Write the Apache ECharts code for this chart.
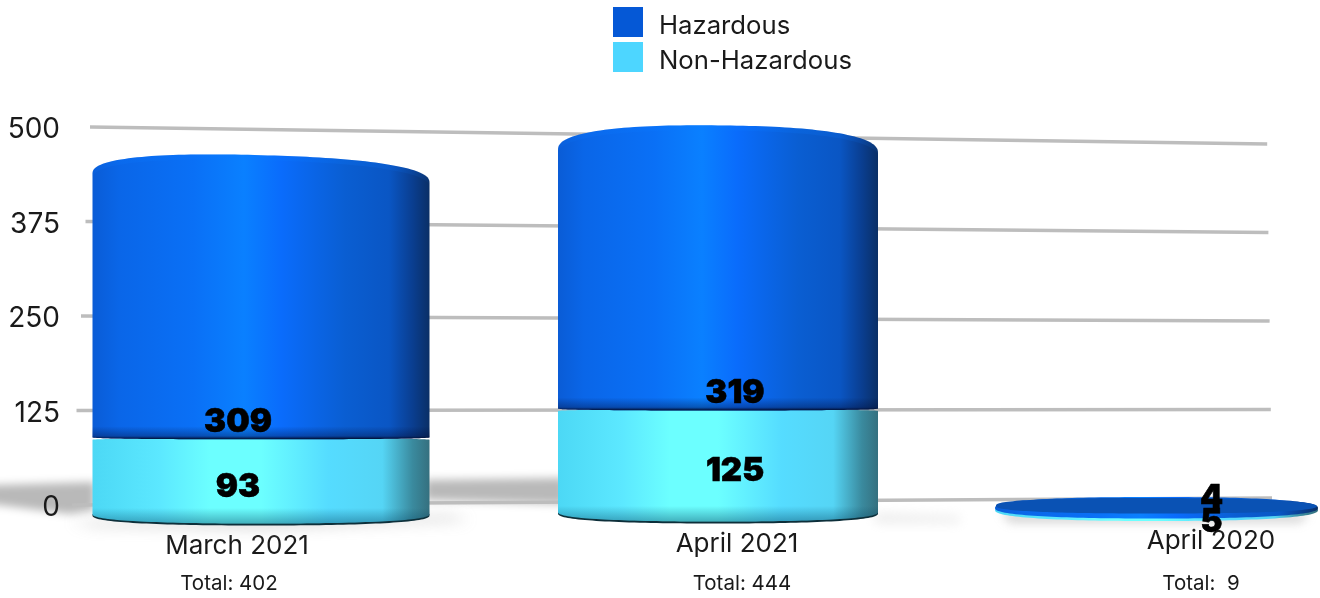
<!DOCTYPE html>
<html><head><meta charset="utf-8">
<style>html,body{margin:0;padding:0;background:#fff}#c{width:1320px;height:598px}</style>
<script src="https://cdn.jsdelivr.net/npm/echarts@6/dist/echarts.min.js"></script>
</head><body><div id="c"></div>
<script>
const categories = ['March 2021', 'April 2021', 'April 2020'];
const totalLabels = ['Total: 402', 'Total: 444', 'Total:  9'];
const hazardous = [309, 319, 4];
const nonHazardous = [93, 125, 5];
const yTicks = [0, 125, 250, 375, 500];

// Presentation only: per-column perspective tweaks, in pixels
const look = [
  {dx: 0,   rx: 168.5, ry: 23, tilt: 9, lift: -5, base: 2,  foot: 10, ldx: -23, hazDy: -16, nonDy: 7},
  {dx: 9.5, rx: 160,   ry: 26, tilt: 3, lift: 3,  base: 0,  foot: 10, ldx: 17,  hazDy: -16, nonDy: 5},
  {dx: 0.5, rx: 161.5, ry: 8,  tilt: 1, lift: 0,  base: -7, foot: 11, ldx: 55, hazDy: -19, nonDy: 2, disc: true}
];
const font = 'Inter, "Noto Sans", sans-serif';
const G = echarts.graphic.LinearGradient;
const blueStops = [[0,'#0a5cd6'],[.08,'#0a66e8'],[.3,'#0a70f6'],[.45,'#0a80ff'],[.56,'#0a6cfc'],[.75,'#0a5ed2'],[.88,'#0a56c4'],[.95,'#0a3e90'],[1,'#0a2f66']]
  .map(([offset,color])=>({offset,color}));
const cyanStops = [[0,'#4cd8f5'],[.2,'#5ce8ff'],[.35,'#6cffff'],[.5,'#6cffff'],[.7,'#55dcff'],[.86,'#55d5f5'],[.95,'#3a8a9e'],[1,'#35707f']]
  .map(([offset,color])=>({offset,color}));

function outline(cx, rx, yTop, hTop, tilt, yBot, hBot) {
  const pts = [], n = 80, p = 2.4;
  const arc = t => Math.pow(Math.max(0, 1 - Math.pow(Math.abs(t), p)), 1 / p);
  for (let i = 0; i <= n; i++) {
    const t = -Math.cos(Math.PI * i / n);
    pts.push([cx + rx * t, yTop + tilt * t / 2 - hTop * arc(t)]);
  }
  for (let i = n; i >= 0; i--) {
    const t = -Math.cos(Math.PI * i / n);
    pts.push([cx + rx * t, yBot + hBot * arc(t)]);
  }
  return pts;
}
function poly(points, fill, extra) {
  return Object.assign({type: 'polygon', shape: {points}, style: {fill}}, extra || {});
}

function renderNon(params, api) {
  const i = api.value(0), v = api.value(1), L = look[i];
  const cx = api.coord([i, 0])[0] + L.dx;
  const y0 = api.coord([i, 0])[1] + L.base, yV = api.coord([i, v])[1];
  const ch = [];
  if (L.disc) {
    ch.push(poly(outline(cx, L.rx, y0 - 5, L.foot, 0, y0 - 5, L.foot), new G(0,0,1,0,cyanStops)));
  } else {
    const foot = y0 - L.foot;
    ch.push(poly(outline(cx, L.rx, foot, 0, 0, foot + 1.5, L.foot), '#0d2f3a'));
    ch.push(poly(outline(cx, L.rx, yV + 1.5, 1.5, 0, foot, L.foot - 0.5), new G(0,0,1,0,cyanStops)));
    ch.push(poly(outline(cx, L.rx, foot - 6, 0, 0, foot, L.foot - 0.5), new G(0,0,0,1,[{offset:0,color:'rgba(0,60,90,0)'},{offset:1,color:'rgba(0,60,90,.4)'}])));
  }
  return {type: 'group', children: ch};
}
function renderHaz(params, api) {
  const i = api.value(0), v = api.value(1), L = look[i], nh = nonHazardous[i];
  const cx = api.coord([i, 0])[0] + L.dx;
  const yN = api.coord([i, nh])[1], apex = api.coord([i, nh + v])[1] + L.lift;
  const ch = [];
  if (L.disc) {
    const y0 = api.coord([i, 0])[1] + L.base;
    ch.push(poly(outline(cx, L.rx, y0 - 7, L.foot, 0, y0 - 7, L.foot - 0.5), new G(0,0,1,0,blueStops)));
    ch.push(poly(outline(cx, L.rx - 1, y0 - 9, 8, L.tilt, y0 - 9, 7.5), '#0a52b4'));
  } else {
    ch.push(poly(outline(cx, L.rx, apex + L.ry, L.ry, L.tilt, yN - 1, 2), new G(0,0,1,0,blueStops)));
    ch.push(poly(outline(cx, L.rx, yN - 12, 0, 0, yN - 1, 2), new G(0,0,0,1,[{offset:0,color:'rgba(0,10,50,0)'},{offset:.75,color:'rgba(0,10,50,.35)'},{offset:1,color:'rgba(0,5,30,.95)'}])));
    ch.push(poly(outline(cx, L.rx, apex + L.ry + 5, L.ry, L.tilt, apex + L.ry + 5, 0).slice(0, 81)
      .concat(outline(cx, L.rx, apex + L.ry, L.ry, L.tilt, 0, 0).slice(0, 81).reverse()),
      new G(0,0,0,1,[{offset:0,color:'rgba(10,120,255,.25)'},{offset:1,color:'rgba(10,120,255,0)'}])));
  }
  return {type: 'group', children: ch};
}
// Value labels sit above every cylinder
function renderValue(params, api) {
  const i = api.value(0), v = api.value(1), isHaz = api.value(2) === 1, L = look[i];
  const cx = api.coord([i, 0])[0] + L.dx + L.ldx;
  const y = isHaz ? api.coord([i, nonHazardous[i]])[1] + L.hazDy : api.coord([i, v / 2])[1] + L.nonDy;
  return {type: 'text', style: {text: String(v), x: cx, y, align: 'center', verticalAlign: 'middle',
    font: '900 33px ' + font, fill: '#000', stroke: '#000', lineWidth: 0.6}};
}
function renderGridLine(params, api) {
  const v = api.value(0), f = v / 500;
  const a = api.coord([0.015 * f, v]), b = api.coord([1 - 0.004 * f, v]);
  return {type: 'line', shape: {x1: a[0], y1: a[1], x2: b[0], y2: b[1] - 7 + 24 * f},
    style: {stroke: '#bdbdbd', lineWidth: 3.5}};
}
// Soft floor shadows: the shape sits off-canvas, only its blurred shadow lands in view
function renderFloor(params, api) {
  const y = api.coord([0, 0])[1];
  const far = 3000;
  const blurred = (pts, color, blur) => poly(pts.map(p => [p[0] - far, y + p[1]]), '#000',
    {style: {fill: '#000', shadowColor: color, shadowBlur: blur, shadowOffsetX: far}});
  return {type: 'group', silent: true, children: [
    blurred([[70, 0], [450, -6], [470, -2], [260, 6], [95, 4]], 'rgba(195,195,195,.75)', 14),
    blurred([[875, -8], [960, -5], [960, 0], [875, 0]], 'rgba(215,215,215,.6)', 12),
    blurred([[1000, -10], [1310, -8], [1300, 1], [1010, 1]], 'rgba(205,205,205,.8)', 10),
    blurred([[-40, -36], [95, -40], [95, -12], [70, -8], [-40, -22]], 'rgba(185,185,185,1)', 9),
    blurred([[425, -42], [565, -44], [565, -18], [500, -20], [425, -22]], 'rgba(185,185,185,1)', 9)
  ]};
}

const gridY = {left: 72, width: 1200, top: 127, height: 378};
const gridL = {left: 237, width: 974, top: 100, height: 425};
const gridB = {left: 261, width: 895, top: 72, height: 450};
const plainX = {show: false};
const chart = echarts.init(document.getElementById('c'), null, {renderer: 'canvas'});
const monthPadding = [[6, 0, 0, 0], [4, 0, 0, 26], [1, 0, 0, 0]];
const totalPadding = [[0, 16, 0, 0], [0, 0, 0, 36], [0, 20, 0, 0]];
chart.setOption({
  animation: false,
  backgroundColor: '#fff',
  legend: {
    orient: 'vertical', left: 613, top: 7, padding: 0, itemWidth: 30, itemHeight: 30, itemGap: 3,
    selectedMode: false, icon: 'rect',
    data: ['Hazardous', 'Non-Hazardous'],
    formatter: '{a|{name}}',
    textStyle: {padding: [0, 0, 0, 11], rich: {a: {fontFamily: font, fontSize: 25.7, color: '#1a1a1a', lineHeight: 34, verticalAlign: 'bottom'}}}
  },
  grid: [gridY, gridL, gridB],
  xAxis: [
    {type: 'value', gridIndex: 0, min: 0, max: 1, ...plainX},
    {type: 'category', gridIndex: 1, position: 'bottom', boundaryGap: false,
      data: categories.map((value, i) => ({value, textStyle: {padding: monthPadding[i]}})),
      axisLine: {show: false}, axisTick: {show: false},
      axisLabel: {interval: 0, margin: 2, fontFamily: font, fontSize: 26, color: '#1a1a1a', hideOverlap: false, showMinLabel: true, showMaxLabel: true}},
    {type: 'category', gridIndex: 1, position: 'bottom', offset: 46, boundaryGap: false,
      data: totalLabels.map((value, i) => ({value, textStyle: {padding: totalPadding[i]}})),
      axisLine: {show: false}, axisTick: {show: false},
      axisLabel: {interval: 0, margin: 2, fontFamily: font, fontSize: 20.5, color: '#1a1a1a', hideOverlap: false, showMinLabel: true, showMaxLabel: true}},
    {type: 'category', gridIndex: 2, boundaryGap: false, data: categories, ...plainX}
  ],
  yAxis: [
    {type: 'value', gridIndex: 0, min: 0, max: 500, interval: 125, z: 10,
      axisLine: {show: false}, axisTick: {show: false}, splitLine: {show: false},
      axisLabel: {margin: 12, formatter: '{a|{value}}',
        rich: {a: {fontFamily: font, fontSize: 28, color: '#1a1a1a', lineHeight: 34, verticalAlign: 'bottom'}}}},
    {type: 'value', gridIndex: 1, min: 0, max: 500, ...plainX, splitLine: {show: false}},
    {type: 'value', gridIndex: 2, min: 0, max: 500, ...plainX, splitLine: {show: false}}
  ],
  series: [
    {type: 'custom', name: 'floor', xAxisIndex: 3, yAxisIndex: 2, z: 1, silent: true, data: [[0, 0]],
      encode: {x: 0, y: 1}, renderItem: renderFloor},
    {type: 'custom', name: 'grid', xAxisIndex: 0, yAxisIndex: 0, z: 2, silent: true,
      data: yTicks.map(v => [v]), dimensions: ['v'], encode: {y: 0}, renderItem: renderGridLine},
    {type: 'custom', name: 'Non-Hazardous', xAxisIndex: 3, yAxisIndex: 2, z: 4,
      itemStyle: {color: '#4dd6ff'}, data: nonHazardous.map((v, i) => [i, v]),
      encode: {x: 0, y: 1}, renderItem: renderNon},
    {type: 'custom', name: 'Hazardous', xAxisIndex: 3, yAxisIndex: 2, z: 5,
      itemStyle: {color: '#0558d6'}, data: hazardous.map((v, i) => [i, v]),
      encode: {x: 0, y: 1}, renderItem: renderHaz},
    {type: 'custom', name: 'values', xAxisIndex: 3, yAxisIndex: 2, z: 6, silent: true,
      data: nonHazardous.map((v, i) => [i, v, 0]).concat(hazardous.map((v, i) => [i, v, 1])),
      encode: {x: 0, y: 1}, renderItem: renderValue}
  ]
});
</script></body></html>
